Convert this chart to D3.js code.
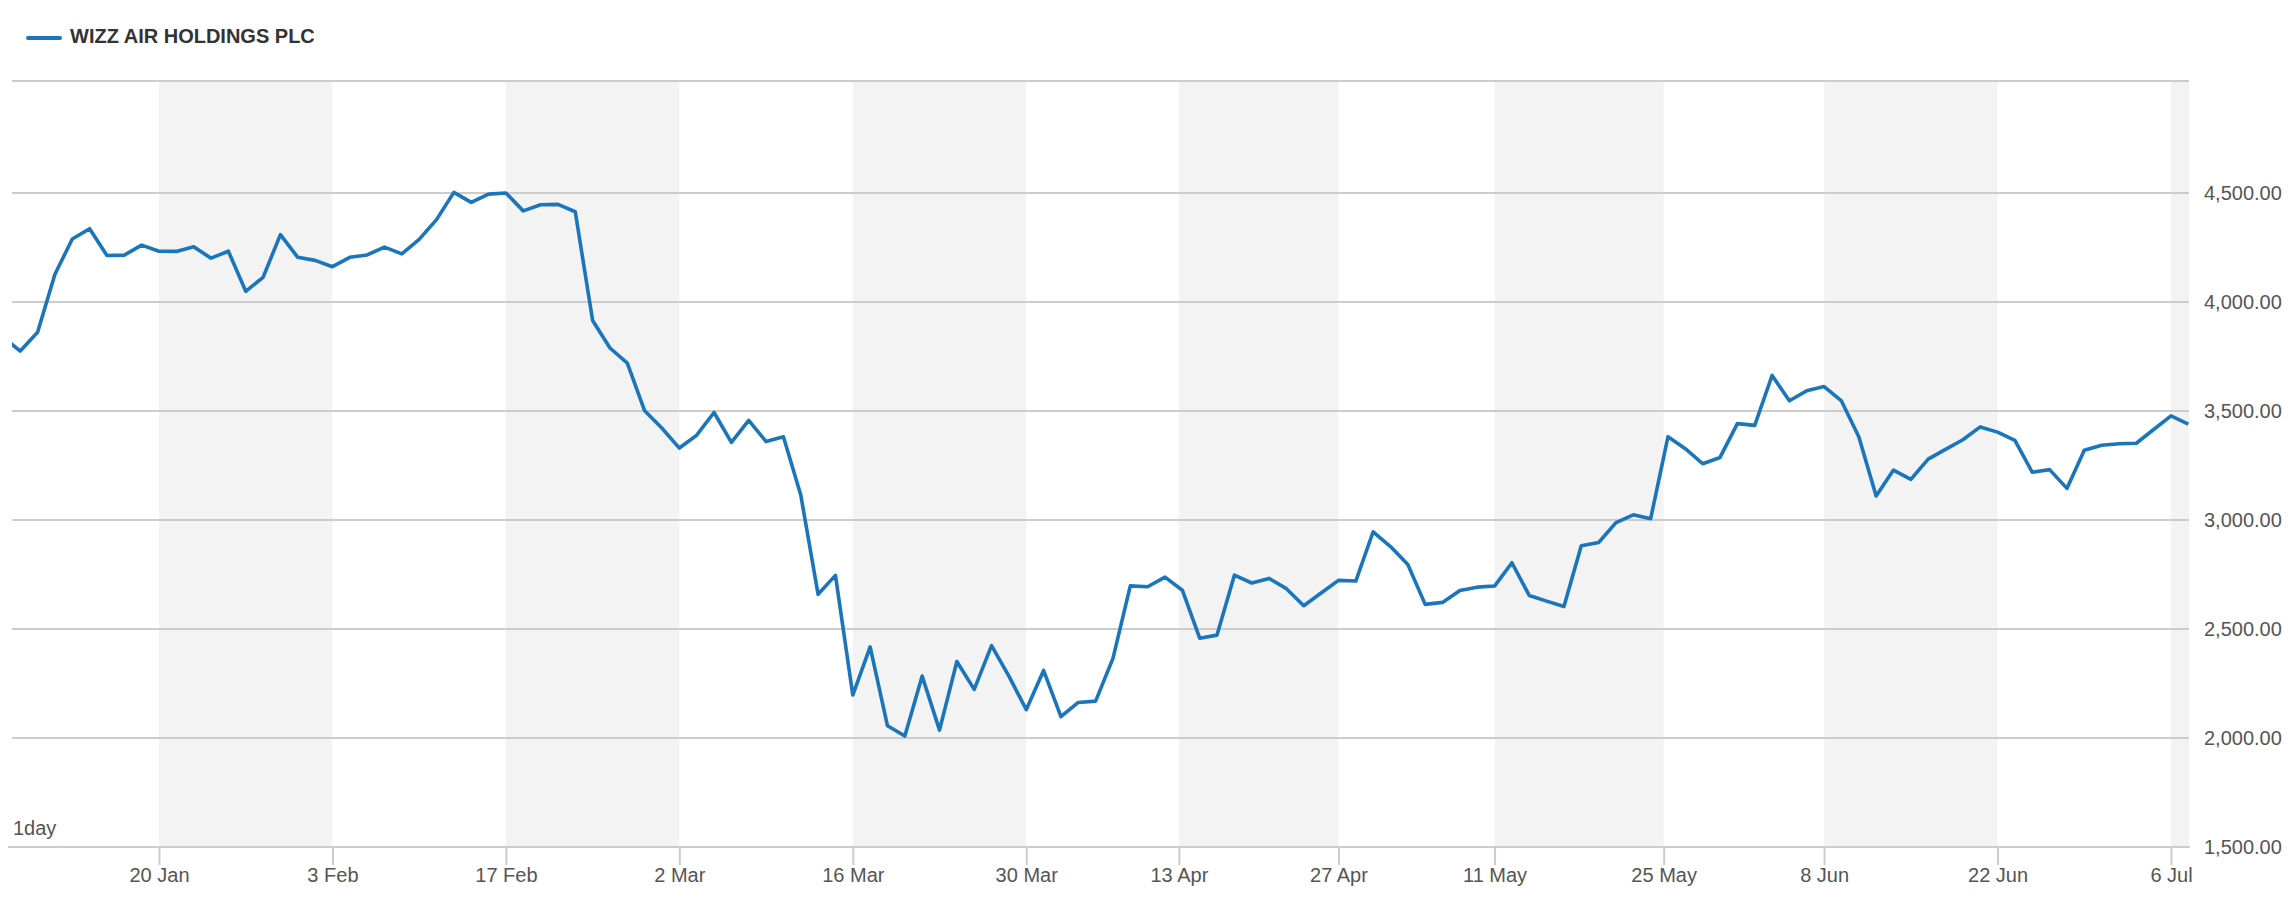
<!DOCTYPE html>
<html><head><meta charset="utf-8">
<script src="https://cdn.jsdelivr.net/npm/d3@7"></script>
<style>
body{margin:0;background:#fff;}
svg{display:block;font-family:"Liberation Sans",Arial,sans-serif;}
</style>
</head><body>
<svg id="chart" width="2288" height="900"></svg>
<script>
const seriesName = "WIZZ AIR HOLDINGS PLC";
const intervalLabel = "1day";

const dates = [
 "2020-01-07","2020-01-08","2020-01-09","2020-01-10","2020-01-13","2020-01-14","2020-01-15","2020-01-16","2020-01-17",
 "2020-01-20","2020-01-21","2020-01-22","2020-01-23","2020-01-24","2020-01-27","2020-01-28","2020-01-29","2020-01-30","2020-01-31",
 "2020-02-03","2020-02-04","2020-02-05","2020-02-06","2020-02-07","2020-02-10","2020-02-11","2020-02-12","2020-02-13","2020-02-14",
 "2020-02-17","2020-02-18","2020-02-19","2020-02-20","2020-02-21","2020-02-24","2020-02-25","2020-02-26","2020-02-27","2020-02-28",
 "2020-03-02","2020-03-03","2020-03-04","2020-03-05","2020-03-06","2020-03-09","2020-03-10","2020-03-11","2020-03-12","2020-03-13",
 "2020-03-16","2020-03-17","2020-03-18","2020-03-19","2020-03-20","2020-03-23","2020-03-24","2020-03-25","2020-03-26","2020-03-27",
 "2020-03-30","2020-03-31","2020-04-01","2020-04-02","2020-04-03","2020-04-06","2020-04-07","2020-04-08","2020-04-09",
 "2020-04-14","2020-04-15","2020-04-16","2020-04-17","2020-04-20","2020-04-21","2020-04-22","2020-04-23","2020-04-24",
 "2020-04-27","2020-04-28","2020-04-29","2020-04-30","2020-05-01","2020-05-04","2020-05-05","2020-05-06","2020-05-07",
 "2020-05-11","2020-05-12","2020-05-13","2020-05-14","2020-05-15","2020-05-18","2020-05-19","2020-05-20","2020-05-21","2020-05-22",
 "2020-05-26","2020-05-27","2020-05-28","2020-05-29","2020-06-01","2020-06-02","2020-06-03","2020-06-04","2020-06-05",
 "2020-06-08","2020-06-09","2020-06-10","2020-06-11","2020-06-12","2020-06-15","2020-06-16","2020-06-17","2020-06-18","2020-06-19",
 "2020-06-22","2020-06-23","2020-06-24","2020-06-25","2020-06-26","2020-06-29","2020-06-30","2020-07-01","2020-07-02","2020-07-03",
 "2020-07-06","2020-07-07"
];

const prices = [
 3840,3775,3861,4127,4289,4336,4213,4215,4261,
 4233,4232,4253,4201,4233,4049,4113,4309,4205,4191,
 4162,4205,4216,4252,4221,4287,4378,4503,4457,4495,
 4500,4418,4446,4448,4414,3915,3789,3720,3501,3421,
 3330,3389,3493,3356,3457,3360,3382,3115,2659,2746,
 2197,2418,2056,2009,2284,2036,2351,2223,2424,2284,
 2130,2310,2098,2163,2169,2365,2698,2694,2738,
 2678,2458,2472,2747,2711,2732,2685,2607,2665,
 2723,2720,2946,2878,2796,2613,2622,2677,2692,
 2697,2804,2654,2628,2603,2882,2897,2988,3024,3006,
 3382,3327,3258,3287,3442,3434,3663,3547,3593,
 3612,3546,3382,3110,3229,3186,3279,3324,3368,3427,
 3403,3365,3219,3231,3145,3320,3343,3350,3352,3415,
 3478,3440
];

const tickDates = ["2020-01-20","2020-02-03","2020-02-17","2020-03-02","2020-03-16","2020-03-30",
  "2020-04-13","2020-04-27","2020-05-11","2020-05-25","2020-06-08","2020-06-22","2020-07-06"];
const tickLabels = ["20 Jan","3 Feb","17 Feb","2 Mar","16 Mar","30 Mar","13 Apr","27 Apr","11 May","25 May","8 Jun","22 Jun","6 Jul"];
const yTicks = [1500,2000,2500,3000,3500,4000,4500];

// layout
const plotLeft = 12, plotRight = 2189, plotTop = 81, plotBottom = 847;
const lineColor = "#1b75bb", gridColor = "#cccccc", bandColor = "#f3f3f3", textColor = "#555555";

const parse = d3.utcParse("%Y-%m-%d");
const dateVals = dates.map(parse);
const data = dateVals.map((d,i)=>({date:d, value:prices[i]}));

// trading-day index -> pixel
const idxScale = d3.scaleLinear().domain([9, 125]).range([159, 2171]);
// date -> pixel, polylinear over trading days (weekends/holidays collapsed)
const x = d3.scaleLinear()
  .domain(dateVals.map(d=>+d))
  .range(dateVals.map((d,i)=>idxScale(i)));
const y = d3.scaleLinear().domain([1500, 4500]).range([plotBottom, 193]);

const svg = d3.select("#chart");

// shaded bands
const tickTimes = tickDates.map(parse);
const bands = [];
for (let i = 0; i < tickTimes.length; i += 2) {
  const x0 = x(+tickTimes[i]);
  const x1 = i+1 < tickTimes.length ? x(+tickTimes[i+1]) : plotRight;
  bands.push([x0, Math.min(x1, plotRight)]);
}
svg.append("g").selectAll("rect").data(bands).join("rect")
  .attr("x", d=>d[0]).attr("y", plotTop)
  .attr("width", d=>d[1]-d[0]).attr("height", plotBottom-plotTop)
  .attr("fill", bandColor);

// gridlines
svg.append("g").selectAll("line").data(yTicks.filter(v=>v>1500)).join("line")
  .attr("x1", plotLeft).attr("x2", plotRight)
  .attr("y1", d=>y(d)).attr("y2", d=>y(d))
  .attr("stroke", gridColor).attr("stroke-width", 2);
// top border
svg.append("line").attr("x1", plotLeft).attr("x2", plotRight)
  .attr("y1", plotTop).attr("y2", plotTop)
  .attr("stroke", gridColor).attr("stroke-width", 2);

// x axis
const xAxis = d3.axisBottom(x)
  .tickValues(tickTimes.map(d=>+d))
  .tickFormat((d,i)=>tickLabels[i])
  .tickSize(18).tickPadding(3);
const gx = svg.append("g").attr("transform", `translate(0,${plotBottom})`).call(xAxis);
gx.select(".domain").remove();
gx.selectAll(".tick line").attr("stroke", gridColor).attr("stroke-width", 2);
gx.selectAll(".tick text").attr("fill", textColor).attr("font-size", 20)
  .attr("font-family", '"Liberation Sans",Arial,sans-serif');
svg.append("line").attr("x1", 8).attr("x2", plotRight+1)
  .attr("y1", plotBottom).attr("y2", plotBottom)
  .attr("stroke", gridColor).attr("stroke-width", 2);

// y axis (right)
const yAxis = d3.axisRight(y).tickValues(yTicks).tickFormat(d3.format(",.2f"))
  .tickSize(0).tickPadding(15);
const gy = svg.append("g").attr("transform", `translate(${plotRight},0)`).call(yAxis);
gy.select(".domain").remove();
gy.selectAll(".tick text").attr("fill", textColor).attr("font-size", 20)
  .attr("font-family", '"Liberation Sans",Arial,sans-serif');

// interval label
svg.append("text").attr("x", 13).attr("y", 835).attr("font-size", 20)
  .attr("fill", textColor).text(intervalLabel);

// line
svg.append("defs").append("clipPath").attr("id","plotClip").append("rect")
  .attr("x", plotLeft).attr("y", plotTop).attr("width", plotRight-plotLeft).attr("height", plotBottom-plotTop);
const line = d3.line().x(d=>x(+d.date)).y(d=>y(d.value));
svg.append("path").datum(data).attr("clip-path","url(#plotClip)")
  .attr("d", line).attr("fill","none").attr("stroke", lineColor)
  .attr("stroke-width", 3.6).attr("stroke-linejoin","round");

// legend
svg.append("line").attr("x1", 28).attr("x2", 60).attr("y1", 38).attr("y2", 38)
  .attr("stroke", lineColor).attr("stroke-width", 4).attr("stroke-linecap","round");
svg.append("text").attr("x", 70).attr("y", 43).attr("font-size", 20).attr("font-weight","bold")
  .attr("fill", "#333333").text(seriesName);
</script>
</body></html>
